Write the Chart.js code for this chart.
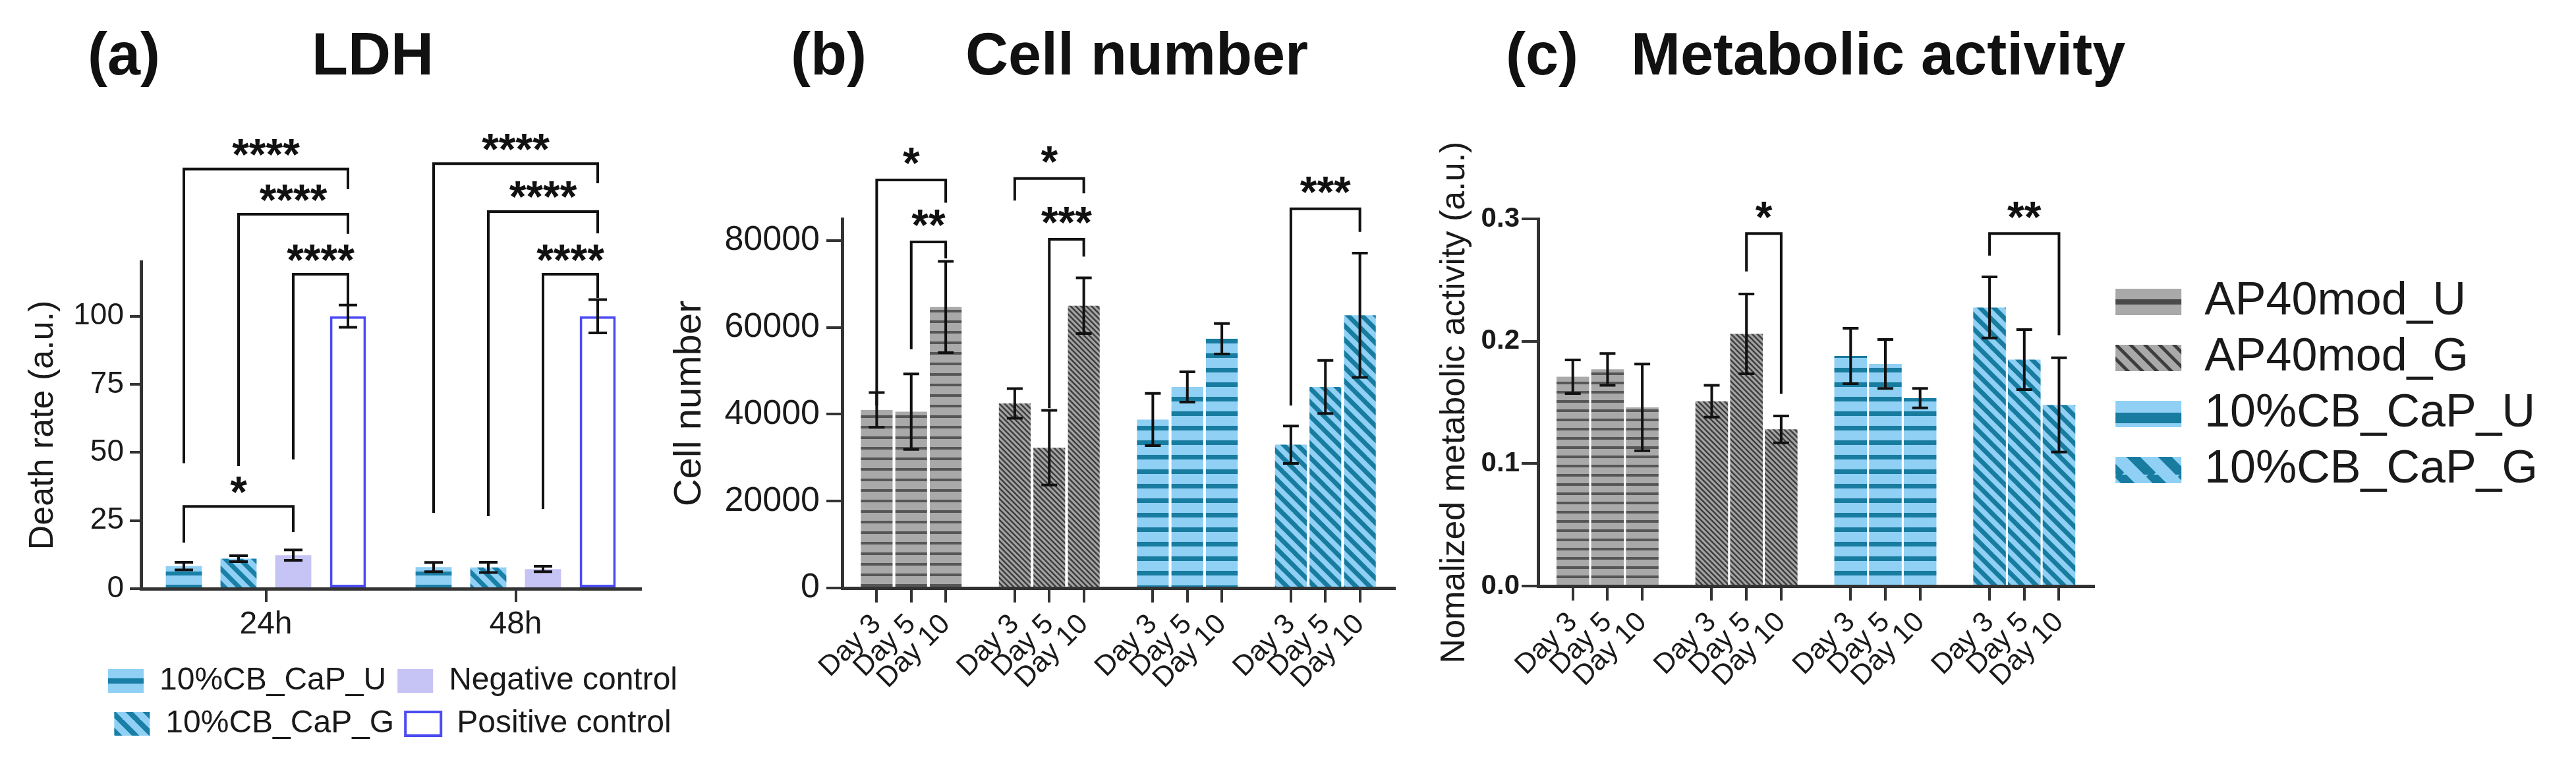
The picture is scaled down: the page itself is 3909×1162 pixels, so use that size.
<!DOCTYPE html>
<html>
<head>
<meta charset="utf-8">
<script src="https://cdn.jsdelivr.net/npm/chart.js@4.4.1/dist/chart.umd.min.js"></script>
<style>
html,body{margin:0;padding:0;background:#fff;}
#wrap{position:relative;width:3909px;height:1162px;overflow:hidden;background:#fff;font-family:'Liberation Sans',Arial,Helvetica,sans-serif;}
canvas{position:absolute;top:0;}
.t{position:absolute;top:37px;font-weight:bold;font-size:90px;line-height:90px;color:#111;white-space:nowrap;}
</style>
</head>
<body>
<div id="wrap">
  <div class="t" style="left:133px">(a)</div>
  <div class="t" style="left:473px">LDH</div>
  <div class="t" style="left:1200px">(b)</div>
  <div class="t" style="left:1465px">Cell number</div>
  <div class="t" style="left:2285px">(c)</div>
  <div class="t" style="left:2475px">Metabolic activity</div>
  <canvas id="cA" width="1180" height="1162" style="left:0px;width:1180px;height:1162px"></canvas>
  <canvas id="cB" width="1180" height="1162" style="left:1000px;width:1180px;height:1162px"></canvas>
  <canvas id="cC" width="1749" height="1162" style="left:2160px;width:1749px;height:1162px"></canvas>
</div>
<script>
// ---------------- DATA ----------------
// (a) LDH
const ldhCategories = ['24h', '48h'];
const ldhSeriesNames = ['10%CB_CaP_U', '10%CB_CaP_G', 'Negative control', 'Positive control'];
const ldhCbU = [8.3, 7.9];
const ldhCbUErr = [1.4, 1.7];
const ldhCbG = [11.0, 7.8];
const ldhCbGErr = [1.1, 1.9];
const ldhNeg = [12.3, 7.2];
const ldhNegErr = [1.9, 1.0];
const ldhPos = [100, 100];
const ldhPosErr = [4.1, 6.1];
const ldhTicks = [0, 25, 50, 75, 100];
// significance: [category, seriesFrom, seriesTo, bracketTop, leftLegEnd, rightLegEnd, label]
const ldhSig = [
  [0, 0, 3, 154.0, 46.0, 146.6, '****'],
  [0, 1, 3, 137.4, 45.0, 130.2, '****'],
  [0, 2, 3, 115.4, 47.4, 104.5, '****'],
  [0, 0, 2, 30.2, 16.9, 20.8, '*'],
  [1, 0, 3, 156.0, 27.8, 148.8, '****'],
  [1, 1, 3, 138.4, 26.6, 130.4, '****'],
  [1, 2, 3, 115.4, 29.3, 106.7, '****']
];

// (b), (c) shared
const dayLabels = ['Day 3', 'Day 5', 'Day 10'];
const materials = ['AP40mod_U', 'AP40mod_G', '10%CB_CaP_U', '10%CB_CaP_G'];

// (b) Cell number
const cellAP40U = [41000, 40600, 64700];
const cellAP40UErr = [4000, 8700, 10500];
const cellAP40G = [42500, 32300, 65000];
const cellAP40GErr = [3400, 8600, 6400];
const cellCbU = [38800, 46300, 57400];
const cellCbUErr = [6000, 3500, 3500];
const cellCbG = [33000, 46300, 62800];
const cellCbGErr = [4300, 6100, 14300];
const cellTicks = [0, 20000, 40000, 60000, 80000];
// [material, dayFrom, dayTo, bracketTop, leftLegEnd, rightLegEnd, label]
const cellSig = [
  [0, 0, 2, 93960, 42000, 88700, '*'],
  [0, 1, 2, 79700, 55000, 75900, '**'],
  [1, 0, 2, 94300, 89200, 90900, '*'],
  [1, 1, 2, 80300, 41400, 76300, '***'],
  [3, 0, 2, 87300, 42000, 82000, '***']
];

// (c) Metabolic activity
const metaAP40U = [0.171, 0.177, 0.146];
const metaAP40UErr = [0.0137, 0.013, 0.0354];
const metaAP40G = [0.151, 0.206, 0.128];
const metaAP40GErr = [0.013, 0.0326, 0.011];
const metaCbU = [0.188, 0.1815, 0.1535];
const metaCbUErr = [0.0226, 0.020, 0.008];
const metaCbG = [0.2276, 0.185, 0.148];
const metaCbGErr = [0.025, 0.0245, 0.0385];
const metaTicks = [0, 0.1, 0.2, 0.3];
const metaSig = [
  [1, 1, 2, 0.288, 0.257, 0.157, '*'],
  [3, 0, 2, 0.288, 0.270, 0.205, '**']
];

// ---------------- SETUP ----------------
Chart.defaults.font.family = "'Liberation Sans', Arial, Helvetica, sans-serif";
Chart.defaults.color = '#1a1a1a';
Chart.defaults.animation = false;
Chart.defaults.responsive = false;
Chart.defaults.devicePixelRatio = 1;
Chart.defaults.plugins.tooltip.enabled = false;

const AXIS = '#333333';
const INK = '#111111';
const GRAY = '#a9a9a9', GRAY_D = '#565656';
const BLUE = '#8fd0f4', TEAL = '#177c9f';

function hStripe(ctx, bg, fg, period, thick, offset) {
  const c = document.createElement('canvas');
  c.width = 8; c.height = period;
  const x = c.getContext('2d');
  x.fillStyle = bg; x.fillRect(0, 0, 8, period);
  x.fillStyle = fg;
  x.fillRect(0, offset === undefined ? Math.round((period - thick) / 2) : offset, 8, thick);
  return ctx.createPattern(c, 'repeat');
}
function dStripe(ctx, bg, fg, p, w) {
  const c = document.createElement('canvas');
  c.width = p; c.height = p;
  const x = c.getContext('2d');
  x.fillStyle = bg; x.fillRect(0, 0, p, p);
  x.strokeStyle = fg; x.lineWidth = w;
  x.beginPath();
  for (let k = -1; k <= 1; k++) { x.moveTo(k * p - 2, -2); x.lineTo(k * p + p + 2, p + 2); }
  x.stroke();
  return ctx.createPattern(c, 'repeat');
}
function legendWithPatterns(pats) {
  return function (chart) {
    const items = Chart.defaults.plugins.legend.labels.generateLabels(chart);
    items.forEach(it => { if (pats[it.datasetIndex]) it.fillStyle = pats[it.datasetIndex]; });
    return items;
  };
}

const nDays = dayLabels.length;
const nSlots = materials.length * (nDays + 1) + 1;
function slotOf(g, d) { return 1 + g * (nDays + 1) + d; }
function slotted(values, g) {
  const arr = new Array(nSlots).fill(null);
  values.forEach((v, d) => { arr[slotOf(g, d)] = v; });
  return arr;
}
const slotLabels = (() => {
  const arr = new Array(nSlots).fill('');
  materials.forEach((m, g) => dayLabels.forEach((l, d) => { arr[slotOf(g, d)] = l; }));
  return arr;
})();

function annotPlugin(cfg) {
  return {
    id: 'annot',
    afterDatasetsDraw(chart) {
      const ctx = chart.ctx, ys = chart.scales.y;
      ctx.save();
      ctx.strokeStyle = INK; ctx.lineWidth = cfg.errWidth; ctx.lineCap = 'butt';
      chart.data.datasets.forEach((ds, i) => {
        const meta = chart.getDatasetMeta(i);
        ds.data.forEach((v, j) => {
          const e = ds.errorBars ? ds.errorBars[j] : null;
          if (v == null || e == null) return;
          const el = meta.data[j];
          const x = el.x;
          const y1 = ys.getPixelForValue(v + e), y0 = ys.getPixelForValue(v - e);
          ctx.beginPath();
          ctx.moveTo(x, y0); ctx.lineTo(x, y1);
          ctx.moveTo(x - cfg.cap, y1); ctx.lineTo(x + cfg.cap, y1);
          ctx.moveTo(x - cfg.cap, y0); ctx.lineTo(x + cfg.cap, y0);
          ctx.stroke();
        });
      });
      ctx.lineWidth = cfg.brWidth; ctx.lineJoin = 'miter';
      ctx.font = cfg.starFont; ctx.fillStyle = INK; ctx.textAlign = 'center'; ctx.textBaseline = 'alphabetic';
      cfg.sig.forEach(s => {
        const xs = cfg.xOf(chart, s);
        const yT = ys.getPixelForValue(s[3]), yL = ys.getPixelForValue(s[4]), yR = ys.getPixelForValue(s[5]);
        ctx.beginPath();
        ctx.moveTo(xs[0], yL); ctx.lineTo(xs[0], yT); ctx.lineTo(xs[1], yT); ctx.lineTo(xs[1], yR);
        ctx.stroke();
        const m = ctx.measureText(s[6]);
        const cy = yT - cfg.starGap;
        const base = cy + (m.actualBoundingBoxAscent - m.actualBoundingBoxDescent) / 2;
        ctx.fillText(s[6], (xs[0] + xs[1]) / 2, base);
      });
      ctx.restore();
    }
  };
}

function yAxis(opts) {
  return {
    type: 'linear', position: 'left', min: 0, max: opts.max,
    afterFit(s) { s.width = opts.width; },
    afterBuildTicks(s) { s.ticks = opts.ticks.map(v => ({ value: v })); },
    border: { display: true, color: AXIS, width: 5 },
    grid: { drawOnChartArea: false, drawTicks: true, tickLength: opts.tickLength, color: AXIS, lineWidth: 4 },
    ticks: { font: opts.tickFont, color: '#1a1a1a', padding: opts.tickPad, callback: opts.fmt },
    title: { display: true, text: opts.title, font: { size: opts.titleSize }, color: '#1a1a1a', padding: { top: 0, bottom: 0 } }
  };
}
function padAxis(w) {
  return {
    type: 'linear', position: 'right', display: true,
    grid: { display: false }, border: { display: false }, ticks: { display: false },
    afterFit(s) { s.width = w; }
  };
}

// ---------------- PANEL A ----------------
(function () {
  const canvas = document.getElementById('cA');
  const ctx = canvas.getContext('2d');
  const patU = hStripe(ctx, BLUE, '#1a7fa6', 20, 6);
  const patG = dStripe(ctx, BLUE, '#1a7fa6', 22, 7);
  const legPats = [hStripe(ctx, BLUE, '#1a7fa6', 65, 8, 54), dStripe(ctx, BLUE, '#1a7fa6', 26, 8), null, null];
  const legendOrder = [0, 2, 1, 3];
  new Chart(ctx, {
    type: 'bar',
    data: {
      labels: ldhCategories,
      datasets: [
        { label: ldhSeriesNames[0], data: ldhCbU, errorBars: ldhCbUErr, backgroundColor: patU, borderWidth: 0 },
        { label: ldhSeriesNames[1], data: ldhCbG, errorBars: ldhCbGErr, backgroundColor: patG, borderWidth: 0 },
        { label: ldhSeriesNames[2], data: ldhNeg, errorBars: ldhNegErr, backgroundColor: '#c6c3f5', borderWidth: 0 },
        { label: ldhSeriesNames[3], data: ldhPos, errorBars: ldhPosErr, backgroundColor: '#ffffff', borderColor: '#4b4bf2', borderWidth: 4, borderSkipped: false }
      ]
    },
    options: {
      layout: { padding: { left: 34, top: 397, right: 22, bottom: 30 } },
      datasets: { bar: { categoryPercentage: 0.876, barPercentage: 0.66 } },
      scales: {
        x: {
          type: 'category', offset: true,
          afterFit(s) { s.height = 99; },
          border: { display: true, color: AXIS, width: 5 },
          grid: { offset: false, drawOnChartArea: false, tickLength: 20, color: AXIS, lineWidth: 4 },
          ticks: { font: { size: 48 }, color: '#1a1a1a', padding: 6, maxRotation: 0, minRotation: 0 }
        },
        y: yAxis({ max: 120, width: 180, ticks: ldhTicks, tickLength: 17, tickPad: 9, tickFont: { size: 46 },
                   title: 'Death rate (a.u.)', titleSize: 52, fmt: v => String(v) }),
        yPad: padAxis(186)
      },
      plugins: {
        legend: {
          display: true, position: 'bottom', align: 'center',
          labels: {
            font: { size: 48 }, boxWidth: 54, boxHeight: 36, padding: 17, color: '#1a1a1a',
            generateLabels: legendWithPatterns(legPats),
            sort: (a, b) => legendOrder.indexOf(a.datasetIndex) - legendOrder.indexOf(b.datasetIndex)
          }
        }
      }
    },
    plugins: [annotPlugin({
      sig: ldhSig, errWidth: 4, cap: 14, brWidth: 4, starFont: 'bold 66px "Liberation Sans", Arial, sans-serif', starGap: 33,
      xOf: (chart, s) => [chart.getDatasetMeta(s[1]).data[s[0]].x, chart.getDatasetMeta(s[2]).data[s[0]].x]
    })]
  });
})();

// ---------------- PANEL B / C helpers ----------------
function slotXAxis(height) {
  return {
    type: 'category', offset: false,
    afterFit(s) { s.height = height; },
    border: { display: true, color: AXIS, width: 5 },
    grid: {
      offset: false, drawOnChartArea: false, tickLength: 22, lineWidth: 4,
      color: AXIS,
      tickColor: (c) => (c.tick && c.tick.label) ? AXIS : 'rgba(0,0,0,0)'
    },
    ticks: { autoSkip: false, font: { size: 43 }, color: '#1a1a1a', padding: 8, maxRotation: 45, minRotation: 45 }
  };
}
function materialDatasets(ctx, vals, errs, periodU) {
  const pats = [
    hStripe(ctx, GRAY, GRAY_D, periodU, 4),
    dStripe(ctx, '#a3a3a3', '#3e3e3e', 8, 2.6),
    hStripe(ctx, BLUE, TEAL, 22, 7),
    dStripe(ctx, BLUE, TEAL, 21, 7)
  ];
  return materials.map((m, g) => ({
    label: m, data: slotted(vals[g], g), errorBars: slotted(errs[g], g),
    backgroundColor: pats[g], borderWidth: 0
  }));
}
function slotXOf(chart, s) {
  const meta = chart.getDatasetMeta(s[0]);
  return [meta.data[slotOf(s[0], s[1])].x, meta.data[slotOf(s[0], s[2])].x];
}

// ---------------- PANEL B ----------------
(function () {
  const canvas = document.getElementById('cB');
  const ctx = canvas.getContext('2d');
  new Chart(ctx, {
    type: 'bar',
    data: {
      labels: slotLabels,
      datasets: materialDatasets(ctx,
        [cellAP40U, cellAP40G, cellCbU, cellCbG],
        [cellAP40UErr, cellAP40GErr, cellCbUErr, cellCbGErr], 16)
    },
    options: {
      layout: { padding: { left: 12, top: 332, right: 64, bottom: 70 } },
      datasets: { bar: { grouped: false, categoryPercentage: 1, barPercentage: 0.92 } },
      scales: {
        x: slotXAxis(200),
        y: yAxis({ max: 85000, width: 266, ticks: cellTicks, tickLength: 24, tickPad: 10, tickFont: { size: 52 },
                   title: 'Cell number', titleSize: 58, fmt: v => String(v) })
      },
      plugins: { legend: { display: false } }
    },
    plugins: [annotPlugin({
      sig: cellSig, errWidth: 4, cap: 12, brWidth: 4, starFont: 'bold 66px "Liberation Sans", Arial, sans-serif', starGap: 36,
      xOf: slotXOf
    })]
  });
})();

// ---------------- PANEL C ----------------
(function () {
  const canvas = document.getElementById('cC');
  const ctx = canvas.getContext('2d');
  const legPats = [
    hStripe(ctx, GRAY, '#4a4a4a', 85, 8, 29),
    dStripe(ctx, GRAY, '#3e3e3e', 22, 5),
    hStripe(ctx, BLUE, TEAL, 85, 16, 31),
    dStripe(ctx, BLUE, TEAL, 48, 15)
  ];
  new Chart(ctx, {
    type: 'bar',
    data: {
      labels: slotLabels,
      datasets: materialDatasets(ctx,
        [metaAP40U, metaAP40G, metaCbU, metaCbG],
        [metaAP40UErr, metaAP40GErr, metaCbUErr, metaCbGErr], 14)
    },
    options: {
      layout: { padding: { left: 16, top: 332, right: 48, bottom: 73 } },
      datasets: { bar: { grouped: false, categoryPercentage: 1, barPercentage: 0.94 } },
      scales: {
        x: slotXAxis(200),
        y: yAxis({ max: 0.3, width: 158, ticks: metaTicks, tickLength: 25, tickPad: 3,
                   tickFont: { size: 42, weight: 'bold' },
                   title: 'Nomalized metabolic activity (a.u.)', titleSize: 52, fmt: v => v.toFixed(1) }),
        yPad: padAxis(18)
      },
      plugins: {
        legend: {
          display: true, position: 'right', align: 'start', fullSize: false, maxWidth: 700,
          title: { display: true, text: '', padding: 32, font: { size: 10 } },
          labels: { font: { size: 70 }, boxWidth: 100, boxHeight: 40, padding: 15, color: '#1a1a1a',
                    generateLabels: legendWithPatterns(legPats) }
        }
      }
    },
    plugins: [annotPlugin({
      sig: metaSig, errWidth: 4, cap: 12, brWidth: 4, starFont: 'bold 66px "Liberation Sans", Arial, sans-serif', starGap: 36,
      xOf: slotXOf
    })]
  });
})();
</script>
</body>
</html>
